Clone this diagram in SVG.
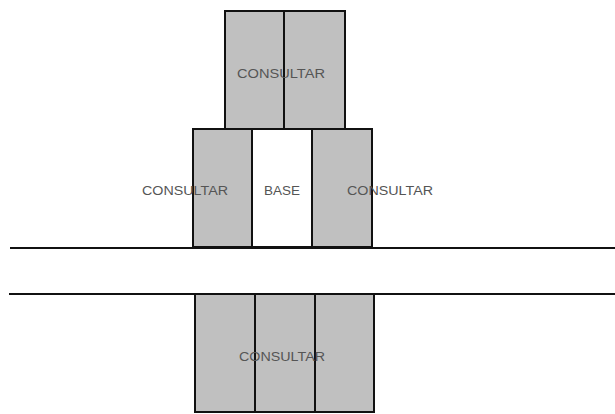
<svg xmlns="http://www.w3.org/2000/svg" width="615" height="414" viewBox="0 0 615 414">
<style>
.g{fill:#c0c0c0;stroke:#111;stroke-width:2}
.w{fill:#fff;stroke:#111;stroke-width:2}
.t{font-family:"Liberation Sans",Arial,sans-serif;font-size:12px;fill:#555;text-anchor:middle}
.ln{stroke:#111;stroke-width:2;fill:none}
</style>
<rect width="615" height="414" fill="#fff"/>
<g id="top">
<rect class="g" x="225" y="11" width="59" height="118"/>
<rect class="g" x="284" y="11" width="61" height="118"/>
<text class="t" x="281" y="78" textLength="88" lengthAdjust="spacingAndGlyphs">CONSULTAR</text>
</g>
<g id="mid-left">
<rect class="g" x="193" y="129" width="59" height="118"/>
<text class="t" x="185" y="195" textLength="86" lengthAdjust="spacingAndGlyphs">CONSULTAR</text>
</g>
<g id="mid-base">
<rect class="w" x="252" y="129" width="60" height="118"/>
<text class="t" x="282" y="195" textLength="36" lengthAdjust="spacingAndGlyphs">BASE</text>
</g>
<g id="mid-right">
<rect class="g" x="312" y="129" width="60" height="118"/>
<text class="t" x="390" y="195" textLength="86" lengthAdjust="spacingAndGlyphs">CONSULTAR</text>
</g>
<g id="bottom">
<rect class="g" x="195" y="294" width="60" height="118"/>
<rect class="g" x="255" y="294" width="60" height="118"/>
<rect class="g" x="315" y="294" width="59" height="118"/>
<text class="t" x="282" y="361" textLength="86" lengthAdjust="spacingAndGlyphs">CONSULTAR</text>
</g>
<g id="connectors">
<line class="ln" x1="10" y1="248" x2="615" y2="248"/>
<line class="ln" x1="9" y1="294" x2="615" y2="294"/>
</g>
</svg>
